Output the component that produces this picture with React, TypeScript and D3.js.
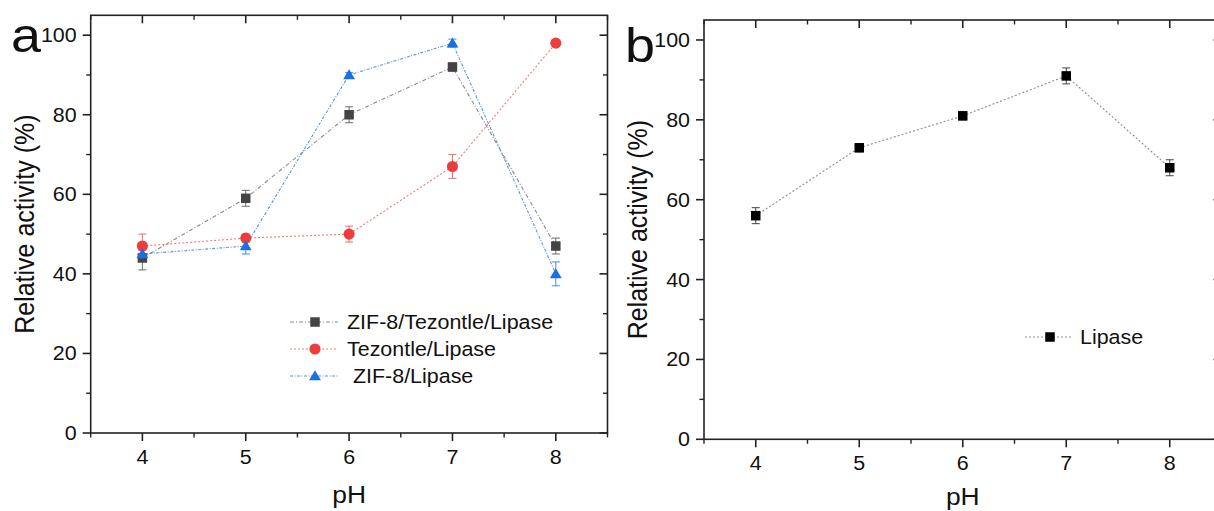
import React from 'react';
import * as d3 from 'd3';

// ---------- data ----------
const phValues = [4, 5, 6, 7, 8];
const zifTezValues = [44, 59, 80, 92, 47];
const zifTezErrors = [3, 2, 2, 1, 2];
const tezValues = [47, 49, 50, 67, 98];
const tezErrors = [3, 1, 2, 3, 0.6];
const zifValues = [45, 47, 90, 98, 40];
const zifErrors = [1, 2, 0.6, 1, 3];
const lipaseValues = [56, 73, 81, 91, 68];
const lipaseErrors = [2, 1, 1, 2, 2];
const xTicks = [4, 5, 6, 7, 8];
const xMinorTicks = [3.5, 4.5, 5.5, 6.5, 7.5, 8.5];
const yTicks = [0, 20, 40, 60, 80, 100];
const yMinorTicks = [10, 30, 50, 70, 90];
const seriesNamesA = ['ZIF-8/Tezontle/Lipase', 'Tezontle/Lipase', ' ZIF-8/Lipase'];
const seriesNameB = 'Lipase';

const FONT = 'Liberation Sans, Arial, Helvetica, sans-serif';
const SX = 1.1; // horizontal stretch of the original figure's text

type Series = {
  name: string;
  values: number[];
  errors: number[];
  marker: 'square' | 'circle' | 'triangle';
  fill: string;
  line: string;
  errColor: string;
  dash: string;
};

const seriesA: Series[] = [
  { name: seriesNamesA[0], values: zifTezValues, errors: zifTezErrors, marker: 'square', fill: '#444444', line: '#8a8a8a', errColor: '#6a6a6a', dash: '4,2,1,2' },
  { name: seriesNamesA[1], values: tezValues, errors: tezErrors, marker: 'circle', fill: '#ee3b3b', line: '#f07a7a', errColor: '#f06a6a', dash: '2,2' },
  { name: seriesNamesA[2], values: zifValues, errors: zifErrors, marker: 'triangle', fill: '#1a6fe3', line: '#5b93e6', errColor: '#4a88e8', dash: '3,1.5,1,1.5' },
];
const seriesB: Series[] = [
  { name: seriesNameB, values: lipaseValues, errors: lipaseErrors, marker: 'square', fill: '#000000', line: '#8c8c8c', errColor: '#444444', dash: '2,2' },
];

function Marker({ type, x, y, fill, size }: { type: string; x: number; y: number; fill: string; size: number }) {
  if (type === 'square') {
    return <rect x={x - size / 2} y={y - size / 2} width={size} height={size} fill={fill} />;
  }
  if (type === 'circle') {
    return <circle cx={x} cy={y} r={size / 2 + 0.8} fill={fill} />;
  }
  const h = size * 1.0;
  const w = size * 1.25;
  return (
    <path
      d={`M${x},${y - h * 0.6} L${x + w / 2},${y + h * 0.45} L${x - w / 2},${y + h * 0.45} Z`}
      fill={fill}
    />
  );
}

function SText({ x, y, children, size, anchor = 'start', rotate = false }: any) {
  const tr = rotate
    ? `translate(${x},${y}) scale(${SX},1) rotate(-90)`
    : `translate(${x},${y}) scale(${SX},1)`;
  return (
    <text
      transform={tr}
      fontFamily={FONT}
      fontSize={size}
      textAnchor={anchor}
      fill="#111"
      style={{ whiteSpace: 'pre' }}
    >
      {children}
    </text>
  );
}

type PanelProps = {
  left: number;
  right: number;
  top: number;
  bottom: number;
  letter: string;
  letterX: number;
  letterY: number;
  titleY: number;
  series: Series[];
  legendX: number;
  legendY: number;
  legendGap: number;
  legendTextX: number;
};

function Panel(p: PanelProps) {
  const x = d3.scaleLinear().domain([3.5, 8.5]).range([p.left, p.right]);
  const y = d3.scaleLinear().domain([0, 105]).range([p.bottom, p.top]);
  const axisColor = '#222';
  const major = 8;
  const minor = 4.5;
  const line = d3
    .line<number>()
    .x((_, i) => x(phValues[i]))
    .y((d) => y(d));

  return (
    <g>
      {/* data lines */}
      {p.series.map((s, si) => (
        <path key={'l' + si} d={line(s.values) || ''} fill="none" stroke={s.line} strokeWidth={1.1} strokeDasharray={s.dash} />
      ))}
      {/* error bars */}
      {p.series.map((s, si) =>
        s.values.map((v, i) => {
          const cx = x(phValues[i]);
          const y1 = y(v + s.errors[i]);
          const y2 = y(v - s.errors[i]);
          return (
            <g key={'e' + si + '-' + i} stroke={s.errColor} strokeWidth={1}>
              <line x1={cx} x2={cx} y1={y1} y2={y2} />
              <line x1={cx - 4} x2={cx + 4} y1={y1} y2={y1} />
              <line x1={cx - 4} x2={cx + 4} y1={y2} y2={y2} />
            </g>
          );
        })
      )}
      {/* markers */}
      {p.series.map((s, si) =>
        s.values.map((v, i) => (
          <Marker key={'m' + si + '-' + i} type={s.marker} x={x(phValues[i])} y={y(v)} fill={s.fill} size={9.5} />
        ))
      )}

      {/* frame */}
      <rect x={p.left} y={p.top} width={p.right - p.left} height={p.bottom - p.top} fill="none" stroke={axisColor} strokeWidth={1.6} />

      {/* x ticks */}
      {xTicks.map((t) => (
        <g key={'xt' + t} stroke={axisColor} strokeWidth={1.6}>
          <line x1={x(t)} x2={x(t)} y1={p.bottom} y2={p.bottom + major} />
          <line x1={x(t)} x2={x(t)} y1={p.top} y2={p.top + major} />
        </g>
      ))}
      {xMinorTicks.map((t) => (
        <g key={'xm' + t} stroke={axisColor} strokeWidth={1.4}>
          <line x1={x(t)} x2={x(t)} y1={p.bottom} y2={p.bottom + minor} />
          <line x1={x(t)} x2={x(t)} y1={p.top} y2={p.top + minor} />
        </g>
      ))}
      {xTicks.map((t) => (
        <SText key={'xl' + t} x={x(t)} y={p.bottom + 31} size={19.5} anchor="middle">
          {t}
        </SText>
      ))}

      {/* y ticks */}
      {yTicks.map((t) => (
        <g key={'yt' + t} stroke={axisColor} strokeWidth={1.6}>
          <line x1={p.left - major} x2={p.left} y1={y(t)} y2={y(t)} />
          <line x1={p.right - major} x2={p.right} y1={y(t)} y2={y(t)} />
        </g>
      ))}
      {yMinorTicks.map((t) => (
        <g key={'ym' + t} stroke={axisColor} strokeWidth={1.4}>
          <line x1={p.left - minor} x2={p.left} y1={y(t)} y2={y(t)} />
          <line x1={p.right - minor} x2={p.right} y1={y(t)} y2={y(t)} />
        </g>
      ))}
      {yTicks.map((t) => (
        <SText key={'yl' + t} x={p.left - 14} y={y(t) + 7} size={19.5} anchor="end">
          {t}
        </SText>
      ))}

      {/* axis titles */}
      <SText x={p.left - 57} y={(p.top + p.bottom) / 2} size={25} anchor="middle" rotate>
        Relative activity (%)
      </SText>
      <SText x={(x(3.5) + x(8.5)) / 2} y={p.titleY} size={24} anchor="middle">
        pH
      </SText>

      {/* panel letter */}
      <SText x={p.letterX} y={p.letterY} size={49}>
        {p.letter}
      </SText>

      {/* legend */}
      {p.series.map((s, si) => {
        const ly = p.legendY + si * p.legendGap;
        return (
          <g key={'lg' + si}>
            <line x1={p.legendX} x2={p.legendX + 48} y1={ly} y2={ly} stroke={s.line} strokeWidth={1.1} strokeDasharray={s.dash} />
            <Marker type={s.marker} x={p.legendX + 25} y={ly} fill={s.fill} size={9.5} />
            <SText x={p.legendTextX} y={ly + 7} size={19.5}>
              {s.name}
            </SText>
          </g>
        );
      })}
    </g>
  );
}

export default function App() {
  return (
    <svg
      width={1214}
      height={511}
      style={{ position: 'absolute', left: 0, top: 0, background: '#fff' }}
    >
      <rect x={0} y={0} width={1214} height={511} fill="#fff" />
      <Panel
        left={90.7}
        right={607.5}
        top={15.3}
        bottom={433}
        letter="a"
        letterX={11}
        letterY={52}
        titleY={503}
        series={seriesA}
        legendX={290}
        legendY={322}
        legendGap={27}
        legendTextX={347}
      />
      <Panel
        left={704}
        right={1221.5}
        top={20}
        bottom={439.3}
        letter="b"
        letterX={625}
        letterY={62}
        titleY={505}
        series={seriesB}
        legendX={1025}
        legendY={337}
        legendGap={27}
        legendTextX={1080}
      />
    </svg>
  );
}
